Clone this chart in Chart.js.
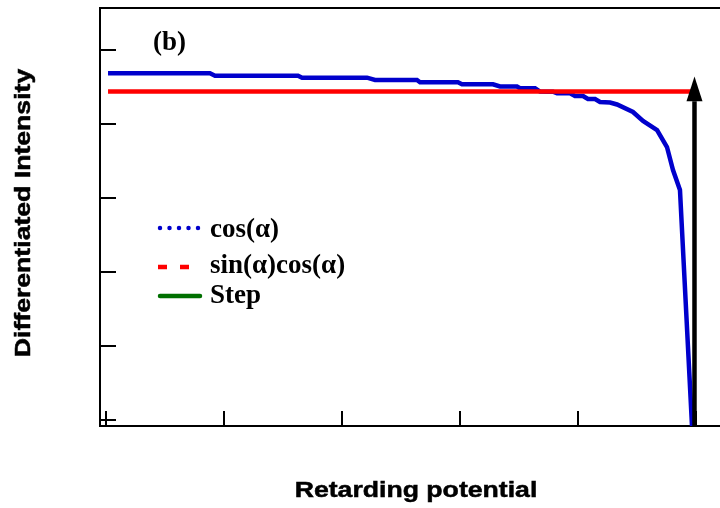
<!DOCTYPE html>
<html>
<head>
<meta charset="utf-8">
<script src="https://cdn.jsdelivr.net/npm/chart.js"></script>
<style>
  html, body { margin: 0; padding: 0; background: #fff; }
</style>
</head>
<body>
<canvas id="chart" width="720" height="508"></canvas>
<script>
// values (axis units: ticks 0..5 on both axes)
const cosX = [0.018, 0.881, 0.924, 1.627, 1.661, 2.211, 2.279, 2.634, 2.660, 2.981, 3.015, 3.278,
              3.337, 3.481, 3.506, 3.634, 3.676, 3.786, 3.820, 3.930, 3.972, 4.040, 4.082, 4.142,
              4.184, 4.269, 4.328, 4.463, 4.548, 4.667, 4.751, 4.802, 4.861, 4.963];
const cosY = [4.688, 4.688, 4.655, 4.655, 4.628, 4.628, 4.597, 4.597, 4.566, 4.566, 4.539, 4.539,
              4.509, 4.509, 4.485, 4.485, 4.441, 4.439, 4.417, 4.417, 4.381, 4.381, 4.340, 4.340,
              4.300, 4.293, 4.266, 4.164, 4.043, 3.921, 3.691, 3.380, 3.110, -0.08];
const sinCosX = [0.018, 4.975];
const sinCosY = [4.441, 4.441];
const stepX = [4.984, 4.984];
const stepY = [-0.08, 4.31];
const arrowTip = 4.645;

const xTicks = [0, 1, 2, 3, 4, 5];
const yTicks = [0, 1, 2, 3, 4, 5];

const legendLabels = ["cos(\u03b1)", "sin(\u03b1)cos(\u03b1)", "Step"];
const panelLabel = "(b)";
const xTitle = "Retarding potential";
const yTitle = "Differentiated Intensity";

const toPoints = (xs, ys) => xs.map((x, i) => ({ x: x, y: ys[i] }));

// wide bold sans text, like the original's title font
function wideText(ctx, text, x, y, angle) {
    ctx.save();
    ctx.translate(x, y);
    ctx.rotate(angle);
    ctx.scale(1.21, 1);
    ctx.font = "bold 22px 'Liberation Sans', Arial, sans-serif";
    ctx.textAlign = "center";
    ctx.textBaseline = "middle";
    ctx.fillStyle = "#000";
    ctx.strokeStyle = "#000";
    ctx.lineWidth = 0.5;
    ctx.fillText(text, 0, 0);
    ctx.strokeText(text, 0, 0);
    ctx.restore();
}

// inward ticks, top frame line, arrow head, labels and legend
const decorations = {
    id: "decorations",
    beforeDatasetsDraw(chart) {
        const { ctx, chartArea: a, scales: { x, y } } = chart;
        ctx.save();
        ctx.strokeStyle = "#000";
        ctx.lineWidth = 2;
        ctx.beginPath();
        xTicks.forEach(v => {
            const px = Math.round(x.getPixelForValue(v));
            ctx.moveTo(px, a.bottom);
            ctx.lineTo(px, a.bottom - 15);
        });
        yTicks.forEach(v => {
            const py = Math.round(y.getPixelForValue(v));
            ctx.moveTo(a.left, py);
            ctx.lineTo(a.left + 16, py);
        });
        ctx.moveTo(a.left - 1, a.top);
        ctx.lineTo(a.right, a.top);
        ctx.stroke();
        ctx.restore();
    },
    afterDatasetsDraw(chart) {
        const { ctx, scales: { x, y } } = chart;
        ctx.save();
        // arrow head on the step line
        const ax = x.getPixelForValue(stepX[1]);
        const tip = y.getPixelForValue(arrowTip);
        const base = y.getPixelForValue(stepY[1]);
        ctx.fillStyle = "#000";
        ctx.beginPath();
        ctx.moveTo(ax, tip);
        ctx.lineTo(ax - 8, base);
        ctx.lineTo(ax + 8, base);
        ctx.closePath();
        ctx.fill();

        // panel label
        ctx.font = "bold 27px 'Liberation Serif', 'Times New Roman', serif";
        ctx.textAlign = "left";
        ctx.textBaseline = "alphabetic";
        ctx.fillText(panelLabel, 153, 50);

        // legend
        const styles = [
            { color: "#0000cc", dash: [0, 9.5], cap: "round", y: 228, x0: 160, x1: 199 },
            { color: "#ff0000", dash: [9, 13], cap: "butt", y: 267, x0: 158, x1: 190 },
            { color: "#007000", dash: [], cap: "round", y: 296, x0: 160, x1: 200 }
        ];
        const baselines = [237, 273, 303];
        styles.forEach((s, i) => {
            ctx.strokeStyle = s.color;
            ctx.lineWidth = 4.5;
            ctx.lineCap = s.cap;
            ctx.setLineDash(s.dash);
            ctx.beginPath();
            ctx.moveTo(s.x0, s.y);
            ctx.lineTo(s.x1, s.y);
            ctx.stroke();
            ctx.fillText(legendLabels[i], 210, baselines[i]);
        });
        ctx.setLineDash([]);
        ctx.restore();

        // axis titles
        wideText(ctx, xTitle, 416, 491, 0);
        wideText(ctx, yTitle, 24, 213, -Math.PI / 2);
    }
};

new Chart(document.getElementById("chart"), {
    type: "line",
    data: {
        datasets: [
            {
                label: legendLabels[0],
                data: toPoints(cosX, cosY),
                borderColor: "#0000cc",
                borderWidth: 4.5,
                pointRadius: 0,
                tension: 0,
                order: 3
            },
            {
                label: legendLabels[1],
                data: toPoints(sinCosX, sinCosY),
                borderColor: "#ff0000",
                borderWidth: 4.5,
                pointRadius: 0,
                order: 2
            },
            {
                label: legendLabels[2],
                data: toPoints(stepX, stepY),
                borderColor: "#000000",
                borderWidth: 4.5,
                pointRadius: 0,
                order: 1
            }
        ]
    },
    options: {
        responsive: false,
        animation: false,
        layout: { padding: { top: 8, left: 0, right: 0, bottom: 0 } },
        plugins: { legend: { display: false }, tooltip: { enabled: false } },
        scales: {
            x: {
                type: "linear",
                min: -0.05,
                max: 5.2,
                afterBuildTicks: s => { s.ticks = xTicks.map(v => ({ value: v })); },
                afterFit: s => { s.height = 82; },
                ticks: { display: false },
                grid: { display: false },
                border: { display: true, color: "#000", width: 2 }
            },
            y: {
                min: -0.08,
                max: 5.57,
                afterBuildTicks: s => { s.ticks = yTicks.map(v => ({ value: v })); },
                afterFit: s => { s.width = 100; },
                ticks: { display: false },
                grid: { display: false },
                border: { display: true, color: "#000", width: 2 }
            }
        }
    },
    plugins: [decorations]
});
</script>
</body>
</html>
